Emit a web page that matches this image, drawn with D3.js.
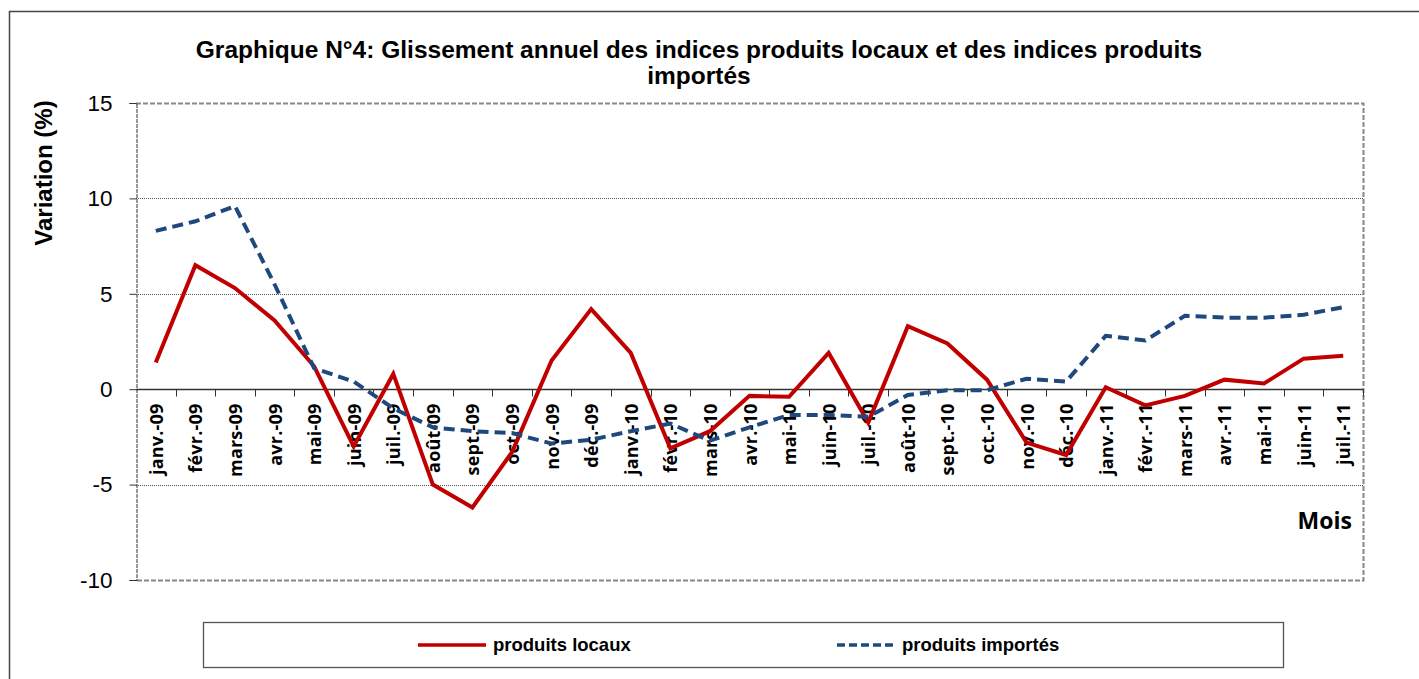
<!DOCTYPE html>
<html>
<head>
<meta charset="utf-8">
<script src="https://cdn.jsdelivr.net/npm/d3@7"></script>
<style>
  body { margin: 0; background: #fff; }
  svg { display: block; }
</style>
</head>
<body>
<svg></svg>
<script>
/* data */
var months = ["janv.-09", "févr.-09", "mars-09", "avr.-09", "mai-09", "juin-09", "juil.-09", "août-09",
  "sept.-09", "oct.-09", "nov.-09", "déc.-09", "janv.-10", "févr.-10", "mars-10", "avr.-10", "mai-10",
  "juin-10", "juil.-10", "août-10", "sept.-10", "oct.-10", "nov.-10", "déc.-10", "janv.-11", "févr.-11",
  "mars-11", "avr.-11", "mai-11", "juin-11", "juil.-11"];
var locaux = [1.4, 6.5, 5.3, 3.6, 1.2, -3.0, 0.8, -5.0, -6.2, -3.3, 1.5, 4.2, 1.9, -3.1, -2.2, -0.35, -0.4,
  1.9, -1.75, 3.3, 2.4, 0.5, -2.8, -3.45, 0.1, -0.85, -0.35, 0.5, 0.3, 1.6, 1.75];
var importes = [8.3, 8.8, 9.6, 5.5, 1.1, 0.4, -1.0, -2.0, -2.2, -2.3, -2.85, -2.65, -2.2, -1.8, -2.7, -2.0,
  -1.35, -1.35, -1.45, -0.3, -0.05, -0.05, 0.55, 0.4, 2.8, 2.55, 3.85, 3.75, 3.75, 3.9, 4.3];
var yTicks = [-10, -5, 0, 5, 10, 15];

svgWidth = 1419;
svgHeight = 679;
var plot = {left: 136, top: 103, right: 1363, bottom: 580};
var scale = {};
var sans = 'Arial, "Liberation Sans", sans-serif';
var catFont = '"Open Sans", "Noto Sans", sans-serif';

var svg = d3.select("svg")
    .attr('width', svgWidth)
    .attr('height', svgHeight)
    .style('font-family', sans);

/* outer frame, runs off the picture on the right and bottom */
svg.append('rect')
    .attr('x', 9.5).attr('y', 11.5)
    .attr('width', 1430).attr('height', 700)
    .attr('fill', 'none')
    .attr('stroke', '#444')
    .attr('stroke-width', 1.5);

setScale();
drawGrid();
drawAxis();
drawLines();
drawTexts();
drawLegend();

function setScale(){
  scale.x = d3.scaleBand()
      .domain(months)
      .range([plot.left, plot.right]);
  scale.y = d3.scaleLinear()
      .domain([-10, 15])
      .range([plot.bottom, plot.top]);
}

function drawGrid(){
  svg.append('g')
      .selectAll('line')
      .data([-5, 5, 10])
      .enter()
      .append('line')
      .attr('x1', plot.left).attr('x2', plot.right)
      .attr('y1', function(d){return Math.round(scale.y(d)) + 0.5})
      .attr('y2', function(d){return Math.round(scale.y(d)) + 0.5})
      .attr('stroke', '#555')
      .attr('stroke-width', 1)
      .attr('stroke-dasharray', '1,1');

  // plot area border: gray dashes
  svg.append('path')
      .attr('d', 'M' + plot.left + ',' + (plot.top + 0.5) + 'H' + (plot.right + 0.5) + 'V' + (plot.bottom + 0.5) + 'H' + plot.left)
      .attr('fill', 'none')
      .attr('stroke', '#888')
      .attr('stroke-width', 2)
      .attr('stroke-dasharray', '5,2');
}

function drawAxis(){
  var yAxis = svg.append('g')
      .attr('transform', translate(plot.left + 0.5, 0))
      .call(d3.axisLeft(scale.y).tickValues(yTicks).tickSize(7).tickPadding(17)
        .tickFormat(function(d){return String(d)}));
  yAxis.select('.domain')
      .attr('stroke', '#333')
      .attr('stroke-dasharray', '4,1');
  yAxis.selectAll('.tick line').attr('stroke', '#333');
  yAxis.selectAll('text')
      .attr('font-size', 22.5)
      .attr('font-family', sans)
      .attr('fill', '#000');

  // zero line with ticks between categories
  var y0 = Math.round(scale.y(0)) + 0.5;
  var zero = svg.append('g');
  zero.append('line')
      .attr('x1', plot.left).attr('x2', plot.right)
      .attr('y1', y0).attr('y2', y0)
      .attr('stroke', '#333').attr('stroke-width', 1.3);
  zero.selectAll('.sep')
      .data(months.slice(1).concat(['end']))
      .enter()
      .append('line')
      .attr('x1', function(d, i){return Math.round(plot.left + (i + 1) * scale.x.step()) + 0.5})
      .attr('x2', function(d, i){return Math.round(plot.left + (i + 1) * scale.x.step()) + 0.5})
      .attr('y1', y0).attr('y2', y0 + 7)
      .attr('stroke', '#333');

  zero.selectAll('text')
      .data(months)
      .enter()
      .append('text')
      .attr('transform', function(d){
        return translate(scale.x(d) + scale.x.bandwidth() / 2 + 7, y0 + 14) + ' rotate(-90)';
      })
      .attr('text-anchor', 'end')
      .attr('font-family', catFont)
      .attr('font-weight', 'bold')
      .attr('font-size', 18)
      .attr('letter-spacing', 0.2)
      .text(function(d){return d});
}

function drawLines(){
  var line = d3.line()
      .x(function(d, i){return scale.x(months[i]) + scale.x.bandwidth() / 2})
      .y(function(d){return scale.y(d)});

  svg.append('path')
      .datum(locaux)
      .attr('d', line)
      .attr('fill', 'none')
      .attr('stroke', '#c00000')
      .attr('stroke-width', 4);

  svg.append('path')
      .datum(importes)
      .attr('d', line)
      .attr('fill', 'none')
      .attr('stroke', '#1f497d')
      .attr('stroke-width', 4)
      .attr('stroke-dasharray', '11,6');
}

function drawTexts(){
  var title = svg.append('text')
      .attr('text-anchor', 'middle')
      .attr('font-weight', 'bold')
      .attr('font-size', 24.5);
  title.append('tspan').attr('x', 699).attr('y', 58)
      .text('Graphique N°4: Glissement annuel des indices produits locaux et des indices produits');
  title.append('tspan').attr('x', 699).attr('y', 84)
      .text('importés');

  svg.append('text')
      .attr('transform', translate(52, 173) + ' rotate(-90)')
      .attr('text-anchor', 'middle')
      .attr('font-weight', 'bold')
      .attr('font-size', 24)
      .text('Variation (%)');

  svg.append('text')
      .attr('x', 1352).attr('y', 529)
      .attr('text-anchor', 'end')
      .attr('font-family', catFont)
      .attr('font-weight', 'bold')
      .attr('font-size', 23)
      .text('Mois');
}

function drawLegend(){
  var g = svg.append('g');
  g.append('rect')
      .attr('x', 203.5).attr('y', 622.5)
      .attr('width', 1080).attr('height', 45)
      .attr('fill', '#fff')
      .attr('stroke', '#555')
      .attr('stroke-width', 1.3);

  var items = [
    {name: 'produits locaux', color: '#c00000', dash: null, x: 418},
    {name: 'produits importés', color: '#1f497d', dash: '8,4', x: 837}
  ];
  items.forEach(function(it){
    g.append('line')
        .attr('x1', it.x).attr('x2', it.x + (it.dash ? 60 : 68))
        .attr('y1', 645).attr('y2', 645)
        .attr('stroke', it.color)
        .attr('stroke-width', 3.5)
        .attr('stroke-dasharray', it.dash);
    g.append('text')
        .attr('x', it.dash ? it.x + 65 : it.x + 75).attr('y', 651)
        .attr('font-weight', 'bold')
        .attr('font-size', 18.5)
        .text(it.name);
  });
}

function translate(x, y) {
  return 'translate(' + x + ',' + y + ')';
}
</script>
</body>
</html>
